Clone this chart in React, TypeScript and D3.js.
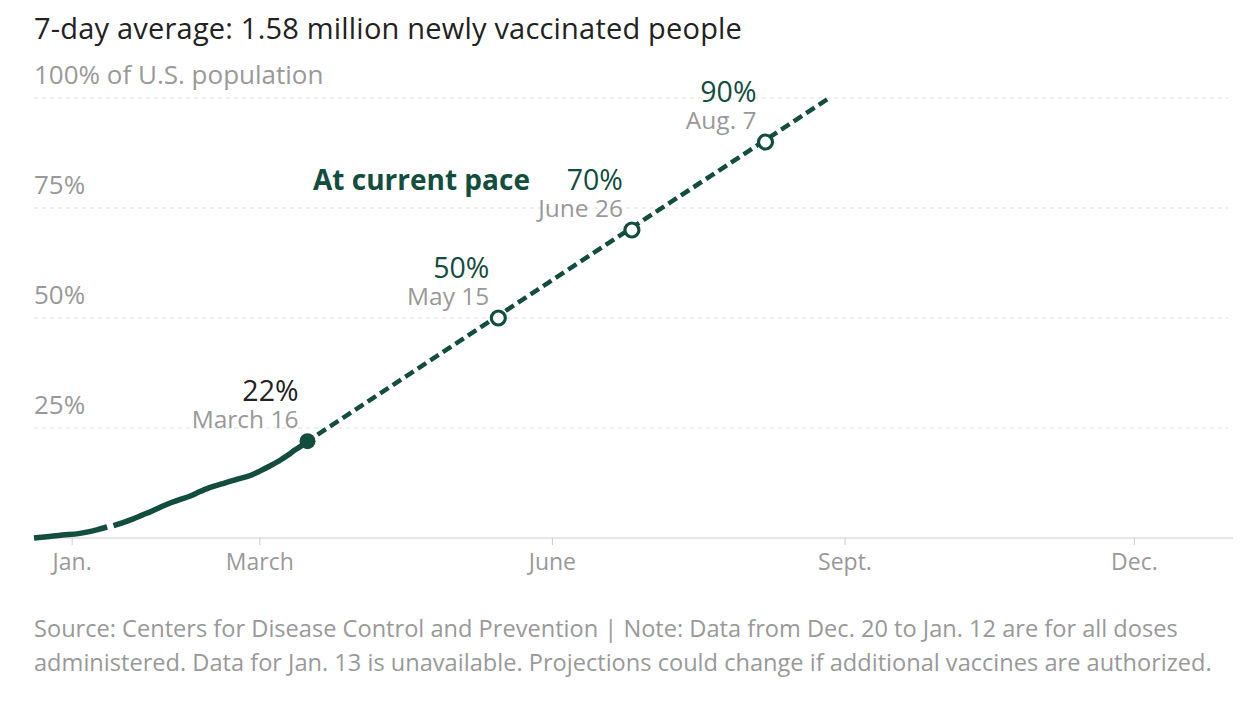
import React from "react";
import * as d3 from "d3";

const W = 1256;
const H = 706;

// Observed share of population with at least one dose (percent)
const actualDates = [
  "2020-12-20", "2020-12-24", "2020-12-29", "2021-01-03", "2021-01-06", "2021-01-09", "2021-01-12",
  "2021-01-13",
  "2021-01-14", "2021-01-17", "2021-01-20", "2021-01-23", "2021-01-26", "2021-01-29", "2021-02-01",
  "2021-02-04", "2021-02-07", "2021-02-10", "2021-02-13", "2021-02-17", "2021-02-22", "2021-02-26",
  "2021-03-01", "2021-03-04", "2021-03-07", "2021-03-10", "2021-03-12", "2021-03-14", "2021-03-16",
];
const actualValues = [
  0, 0.3, 0.7, 1.0, 1.4, 1.9, 2.5,
  NaN,
  2.8, 3.5, 4.3, 5.2, 6.1, 7.1, 8.0,
  8.8, 9.5, 10.5, 11.4, 12.3, 13.4, 14.2,
  15.2, 16.3, 17.5, 18.9, 20.0, 20.9, 22,
];

// Projection at current pace
const projDates = ["2021-03-16", "2021-08-27"];
const projValues = [22, 100];

// Milestones
const milestoneDates = ["2021-03-16", "2021-05-15", "2021-06-26", "2021-08-07"];
const milestoneValues = [22, 50, 70, 90];
const milestonePctLabels = ["22%", "50%", "70%", "90%"];
const milestoneDateLabels = ["March 16", "May 15", "June 26", "Aug. 7"];

const yTicks = [25, 50, 75, 100];
const yTickLabels = ["25%", "50%", "75%", "100% of U.S. population"];
const xTickDates = ["2021-01-01", "2021-03-01", "2021-06-01", "2021-09-01", "2021-12-01"];
const xTickLabels = ["Jan.", "March", "June", "Sept.", "Dec."];

const title = "7-day average: 1.58 million newly vaccinated people";
const seriesLabel = "At current pace";
const footnote1 = "Source: Centers for Disease Control and Prevention | Note: Data from Dec. 20 to Jan. 12 are for all doses";
const footnote2 = "administered. Data for Jan. 13 is unavailable. Projections could change if additional vaccines are authorized.";

const GREEN = "#124d3e";
const GRAY = "#999";
const FONT = "'Open Sans', 'Liberation Sans', Arial, sans-serif";

const parse = d3.utcParse("%Y-%m-%d");

export default function App() {
  const left = 34;
  const right = 1233;
  const x = d3
    .scaleUtc()
    .domain([parse("2020-12-20")!, parse("2022-01-01")!])
    .range([left, right]);
  const y = d3.scaleLinear().domain([0, 100]).range([538, 98]);

  const actual = actualDates.map((d, i) => ({ date: parse(d)!, v: actualValues[i] }));
  const proj = projDates.map((d, i) => ({ date: parse(d)!, v: projValues[i] }));

  const line = d3
    .line<{ date: Date; v: number }>()
    .defined((d) => !isNaN(d.v))
    .x((d) => x(d.date))
    .y((d) => y(d.v))
    .curve(d3.curveMonotoneX);
  const projLine = d3
    .line<{ date: Date; v: number }>()
    .x((d) => x(d.date))
    .y((d) => y(d.v));

  return (
    <svg width={W} height={H} style={{ position: "absolute", left: 0, top: 0 }} fontFamily={FONT}>
      <rect width={W} height={H} fill="#fff" />
      <text x={34} y={39} fontSize={29} letterSpacing={0.2} fill="#222">
        {title}
      </text>

      {yTicks.map((t, i) => (
        <g key={t}>
          <line x1={left} x2={1228} y1={y(t)} y2={y(t)} stroke="#ddd" strokeWidth={1} strokeDasharray="4,4" />
          <text x={left} y={y(t) - 14} fontSize={26} fill={GRAY}>
            {yTickLabels[i]}
          </text>
        </g>
      ))}

      <line x1={left} x2={right} y1={y(0)} y2={y(0)} stroke="#ddd" strokeWidth={1.5} />
      {xTickDates.map((d, i) => {
        const xx = x(parse(d)!);
        return (
          <g key={d}>
            <line x1={xx} x2={xx} y1={y(0)} y2={y(0) + 7} stroke="#ccc" strokeWidth={1} />
            <text x={xx} y={570} fontSize={23} fill={GRAY} textAnchor="middle">
              {xTickLabels[i]}
            </text>
          </g>
        );
      })}

      <path d={projLine(proj)!} fill="none" stroke={GREEN} strokeWidth={4.5} strokeDasharray="10,5" strokeDashoffset={-12} />
      <path d={line(actual)!} fill="none" stroke={GREEN} strokeWidth={5.5} strokeLinecap="butt" />

      {milestoneDates.map((d, i) => {
        const cx = x(parse(d)!);
        const cy = y(milestoneValues[i]);
        const first = i === 0;
        return (
          <g key={d}>
            <circle cx={cx} cy={cy} r={first ? 8 : 7} fill={first ? GREEN : "#fff"} stroke={GREEN} strokeWidth={first ? 0 : 3.2} />
            <text x={cx - 9} y={cy - 40} fontSize={28.5} fill={first ? "#222" : GREEN} textAnchor="end">
              {milestonePctLabels[i]}
            </text>
            <text x={cx - 9} y={cy - 13} fontSize={24.5} fill={GRAY} textAnchor="end">
              {milestoneDateLabels[i]}
            </text>
          </g>
        );
      })}

      <text x={313} y={190} fontSize={28} fontWeight="bold" fill={GREEN}>
        {seriesLabel}
      </text>

      <text x={34} y={637} fontSize={23.6} fill={GRAY}>
        {footnote1}
      </text>
      <text x={34} y={671} fontSize={23.6} fill={GRAY}>
        {footnote2}
      </text>
    </svg>
  );
}
